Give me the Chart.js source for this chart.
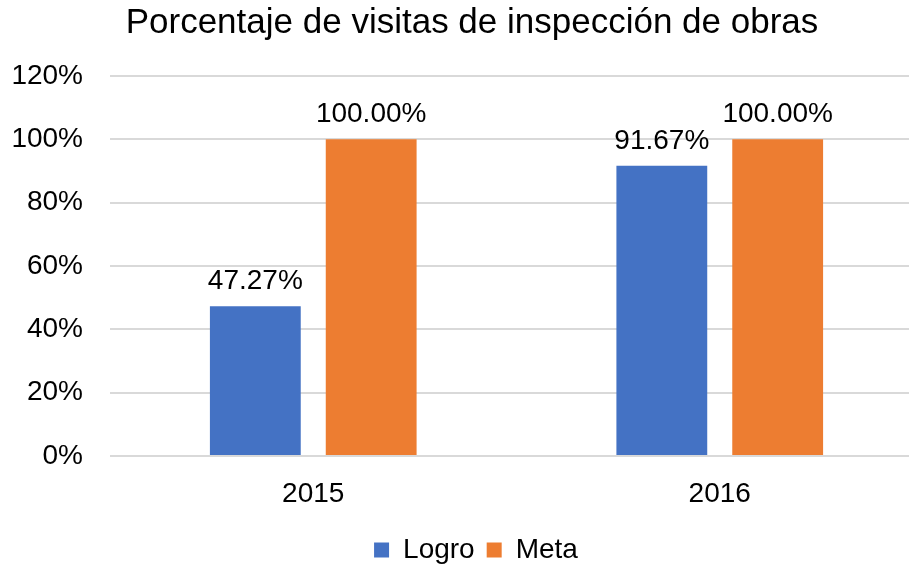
<!DOCTYPE html>
<html>
<head>
<meta charset="utf-8">
<script src="https://cdn.jsdelivr.net/npm/chart.js@4/dist/chart.umd.min.js"></script>
<style>
  html, body { margin: 0; padding: 0; background: #fff; overflow: hidden; }
  #wrap { position: relative; width: 952px; height: 564px; }
</style>
</head>
<body>
<div id="wrap"><canvas id="c"></canvas></div>
<script>
(function () {
  'use strict';

  var TITLE = 'Porcentaje de visitas de inspección de obras';
  var years = ['2015', '2016'];
  var logro = [47.27, 91.67];
  var meta = [100, 100];
  var yTicks = [0, 20, 40, 60, 80, 100, 120];

  var FONT = "'Liberation Sans', Arial, sans-serif";

  // value labels above each bar
  var barLabels = {
    id: 'barLabels',
    afterDatasetsDraw: function (chart) {
      var ctx = chart.ctx;
      ctx.save();
      ctx.font = '28px ' + FONT;
      ctx.fillStyle = '#000';
      ctx.textAlign = 'center';
      ctx.textBaseline = 'alphabetic';
      chart.data.datasets.forEach(function (ds, i) {
        chart.getDatasetMeta(i).data.forEach(function (bar, j) {
          ctx.fillText(ds.data[j].toFixed(2) + '%', bar.x, bar.y - 17);
        });
      });
      ctx.restore();
    }
  };

  // title centred on the original picture, not on the canvas
  var chartTitle = {
    id: 'chartTitle',
    afterDraw: function (chart) {
      var ctx = chart.ctx;
      ctx.save();
      ctx.font = '35px ' + FONT;
      ctx.fillStyle = '#000';
      ctx.textAlign = 'center';
      ctx.textBaseline = 'alphabetic';
      ctx.fillText(TITLE, 472, 33);
      ctx.restore();
    }
  };

  new Chart(document.getElementById('c'), {
    type: 'bar',
    data: {
      labels: years,
      datasets: [
        { label: 'Logro', data: logro, backgroundColor: '#4472C4' },
        { label: 'Meta', data: meta, backgroundColor: '#ED7D31' }
      ]
    },
    options: {
      responsive: true,
      maintainAspectRatio: false,
      animation: false,
      layout: { padding: { left: 0, right: 0, top: 76, bottom: -10 } },
      datasets: { bar: { categoryPercentage: 0.57, barPercentage: 0.784 } },
      plugins: {
        title: { display: false },
        legend: {
          position: 'bottom',
          labels: {
            color: '#000',
            font: { family: FONT, size: 28, lineHeight: 1 },
            boxWidth: 15,
            boxHeight: 15,
            padding: 12
          }
        },
        tooltip: { enabled: false }
      },
      scales: {
        x: {
          grid: { display: false },
          border: { display: false },
          ticks: { color: '#000', font: { family: FONT, size: 28 }, padding: 13 },
          afterFit: function (s) { s.height = 68; }
        },
        y: {
          min: 0,
          max: 120,
          afterBuildTicks: function (s) {
            s.ticks = yTicks.map(function (v) { return { value: v }; });
          },
          grid: { color: '#d9d9d9', lineWidth: 2, drawTicks: false },
          border: { display: false },
          ticks: {
            color: '#000',
            font: { family: FONT, size: 28 },
            padding: 27,
            callback: function (v) { return v + '%'; }
          },
          afterFit: function (s) { s.width = 110; }
        },
        // empty right-hand spacer, keeps the plot where the original has it
        y2: {
          position: 'right',
          grid: { display: false },
          border: { display: false },
          ticks: { display: false },
          afterFit: function (s) { s.width = 29; }
        }
      }
    },
    plugins: [barLabels, chartTitle]
  });
})();
</script>
</body>
</html>
